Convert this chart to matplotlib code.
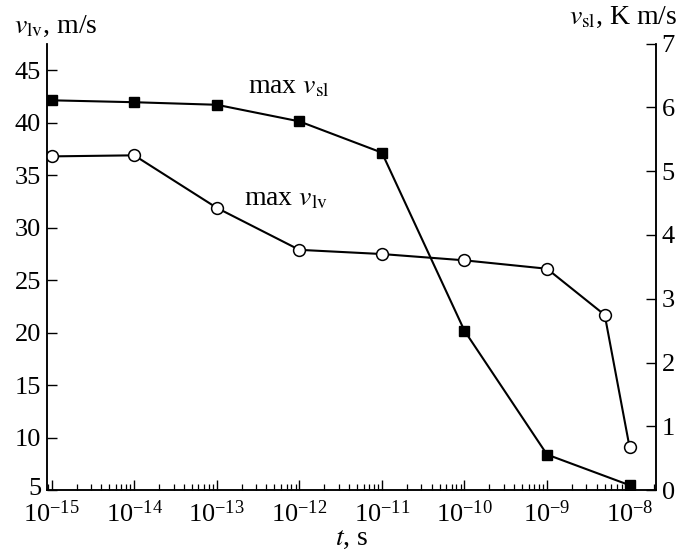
import matplotlib
matplotlib.use("Agg")
import matplotlib.pyplot as plt
import matplotlib.transforms as mtransforms
import numpy as np
from matplotlib.ticker import LogLocator, NullFormatter, FixedLocator

plt.rcParams['font.family'] = ['Liberation Serif', 'DejaVu Serif']
plt.rcParams['mathtext.fontset'] = 'stix'
plt.rcParams['font.size'] = 19

# Data
t_sl = [1e-15, 1e-14, 1e-13, 1e-12, 1e-11, 1e-10, 1e-9, 1e-8]
v_sl = [6.11, 6.08, 6.04, 5.78, 5.29, 2.50, 0.56, 0.08]          # K m/s (right axis)
t_lv = [1e-15, 1e-14, 1e-13, 1e-12, 1e-11, 1e-10, 1e-9, 5e-9, 1e-8]
v_lv = [36.8, 36.9, 31.9, 27.9, 27.5, 26.9, 26.1, 21.7, 9.1]     # m/s (left axis)

left_ticks = [5, 10, 15, 20, 25, 30, 35, 40, 45]
right_ticks = [0, 1, 2, 3, 4, 5, 6, 7]

fig = plt.figure(figsize=(6.9, 5.5), dpi=100)
ax = fig.add_axes([46.7/690, 1-490.3/550, (656-46.7)/690, (490.3-43.5)/550])
ax2 = ax.twinx()

ax.plot(t_lv, v_lv, '-', color='black', lw=1.5, marker='o', ms=8.5,
        mfc='white', mec='black', mew=1.1, zorder=3)
ax2.plot(t_sl, v_sl, '-', color='black', lw=1.5, marker='s', ms=7,
         mfc='black', mec='black', zorder=3)

ax.set_xscale('log')
ax.set_xlim(10**-15.06, 10**-7.68)
ax.set_ylim(5, 47.55)
ax2.set_ylim(0, 7.0)

ax.set_yticks(left_ticks)
ax2.set_yticks(right_ticks)
ax.xaxis.set_major_locator(FixedLocator([10.0**k for k in range(-15, -7)]))
ax.xaxis.set_minor_locator(LogLocator(base=10, subs=np.arange(2, 10), numticks=20))
ax.xaxis.set_minor_formatter(NullFormatter())

for a in (ax, ax2):
    a.spines['top'].set_visible(False)
    for s in a.spines.values():
        s.set_linewidth(1.1)

ax.tick_params(axis='x', which='major', direction='in', length=7, width=1.0, pad=7, labelsize=19)
ax.tick_params(axis='x', which='minor', direction='in', length=4.5, width=0.9)
ax.tick_params(axis='y', direction='in', length=7, width=1.0, pad=4, labelsize=19)
ax2.tick_params(axis='y', direction='in', length=7, width=1.0, pad=4, labelsize=19)

# nudge the lowest left label ("5") slightly up so it does not collide with 10^-15
fig.canvas.draw()
lbl5 = ax.get_yticklabels()[0]
lbl5.set_transform(lbl5.get_transform() + mtransforms.ScaledTranslation(0, 4/100, fig.dpi_scale_trans))

fig.text(14/690, 1-33/550, r'$v_{\mathrm{lv}}$, m/s', fontsize=20, ha='left', va='baseline')
fig.text(677/690, 1-24/550, r'$v_{\mathrm{sl}}$, K m/s', fontsize=20, ha='right', va='baseline')
fig.text(352/690, 1-545/550, r'$t$, s', fontsize=20, ha='center', va='baseline')

fig.text(248/690, 1-93/550, r'max $v_{\mathrm{sl}}$', fontsize=20, ha='left', va='baseline')
fig.text(244/690, 1-205/550, r'max $v_{\mathrm{lv}}$', fontsize=20, ha='left', va='baseline')

fig.savefig('out.png', dpi=100)
